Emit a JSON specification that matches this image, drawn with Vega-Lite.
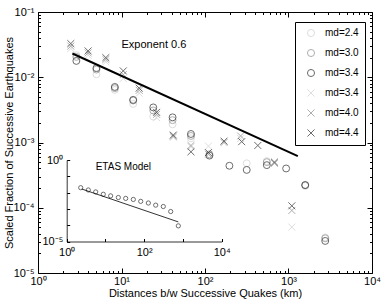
{
  "$schema": "https://vega.github.io/schema/vega-lite/v6.json",
  "width": 334,
  "height": 261,
  "autosize": {"type": "none"},
  "padding": {"left": 38, "top": 12, "right": 10, "bottom": 31},
  "background": "white",
  "config": {
    "view": {"stroke": "black", "strokeWidth": 1},
    "font": "Liberation Sans",
    "axis": {
      "grid": false,
      "labelFont": "Liberation Sans",
      "titleFont": "Liberation Sans",
      "labelColor": "black",
      "titleColor": "black",
      "tickColor": "black",
      "domainColor": "black",
      "titleFontWeight": "normal",
      "labelFontSize": 11,
      "titleFontSize": 11,
      "labelFlush": false,
      "labelOverlap": false
    }
  },
  "datasets": {
    "pts": [
      {"s": "o2.4", "m": "o", "x": 2.88, "y": 0.0218},
      {"s": "o2.4", "m": "o", "x": 5.01, "y": 0.0111},
      {"s": "o2.4", "m": "o", "x": 8.32, "y": 0.0064},
      {"s": "o2.4", "m": "o", "x": 13.8, "y": 0.0039},
      {"s": "o2.4", "m": "o", "x": 24.0, "y": 0.0025},
      {"s": "o2.4", "m": "o", "x": 40.9, "y": 0.0019},
      {"s": "o2.4", "m": "o", "x": 67.9, "y": 0.00116},
      {"s": "o2.4", "m": "o", "x": 316, "y": 0.00048},
      {"s": "o2.4", "m": "o", "x": 550, "y": 0.00052},
      {"s": "o2.4", "m": "o", "x": 1585, "y": 0.000216},
      {"s": "o2.4", "m": "o", "x": 2754, "y": 0.000035},
      {"s": "o3.0", "m": "o", "x": 2.88, "y": 0.0205},
      {"s": "o3.0", "m": "o", "x": 5.01, "y": 0.0131},
      {"s": "o3.0", "m": "o", "x": 8.32, "y": 0.0068},
      {"s": "o3.0", "m": "o", "x": 13.8, "y": 0.0044},
      {"s": "o3.0", "m": "o", "x": 24.0, "y": 0.0031},
      {"s": "o3.0", "m": "o", "x": 40.9, "y": 0.0022},
      {"s": "o3.0", "m": "o", "x": 67.9, "y": 0.00126},
      {"s": "o3.0", "m": "o", "x": 113, "y": 0.00066},
      {"s": "o3.0", "m": "o", "x": 550, "y": 0.0005},
      {"s": "o3.0", "m": "o", "x": 1585, "y": 0.000224},
      {"s": "o3.0", "m": "o", "x": 2754, "y": 0.000034},
      {"s": "o3.4", "m": "o", "x": 2.88, "y": 0.0178},
      {"s": "o3.4", "m": "o", "x": 5.01, "y": 0.0138},
      {"s": "o3.4", "m": "o", "x": 8.32, "y": 0.0071},
      {"s": "o3.4", "m": "o", "x": 13.8, "y": 0.0045},
      {"s": "o3.4", "m": "o", "x": 24.0, "y": 0.00345},
      {"s": "o3.4", "m": "o", "x": 40.9, "y": 0.00243},
      {"s": "o3.4", "m": "o", "x": 67.9, "y": 0.00135},
      {"s": "o3.4", "m": "o", "x": 113, "y": 0.00063},
      {"s": "o3.4", "m": "o", "x": 196, "y": 0.00044},
      {"s": "o3.4", "m": "o", "x": 316, "y": 0.00038},
      {"s": "o3.4", "m": "o", "x": 550, "y": 0.00045},
      {"s": "o3.4", "m": "o", "x": 937, "y": 0.0004},
      {"s": "o3.4", "m": "o", "x": 1585, "y": 0.000222},
      {"s": "o3.4", "m": "o", "x": 2754, "y": 0.000031},
      {"s": "x3.4", "m": "x", "x": 2.47, "y": 0.0275},
      {"s": "x3.4", "m": "x", "x": 3.98, "y": 0.0218},
      {"s": "x3.4", "m": "x", "x": 6.49, "y": 0.0172},
      {"s": "x3.4", "m": "x", "x": 10.5, "y": 0.0096},
      {"s": "x3.4", "m": "x", "x": 16.3, "y": 0.0057},
      {"s": "x3.4", "m": "x", "x": 26.3, "y": 0.0024},
      {"s": "x3.4", "m": "x", "x": 41.7, "y": 0.0012},
      {"s": "x3.4", "m": "x", "x": 67.9, "y": 0.00086},
      {"s": "x3.4", "m": "x", "x": 110, "y": 0.00088},
      {"s": "x3.4", "m": "x", "x": 267, "y": 0.00115},
      {"s": "x3.4", "m": "x", "x": 1096, "y": 0.0000505},
      {"s": "x4.0", "m": "x", "x": 2.47, "y": 0.03},
      {"s": "x4.0", "m": "x", "x": 3.98, "y": 0.0236},
      {"s": "x4.0", "m": "x", "x": 6.49, "y": 0.0187},
      {"s": "x4.0", "m": "x", "x": 10.5, "y": 0.011},
      {"s": "x4.0", "m": "x", "x": 16.3, "y": 0.0063},
      {"s": "x4.0", "m": "x", "x": 26.3, "y": 0.0027},
      {"s": "x4.0", "m": "x", "x": 41.7, "y": 0.00125},
      {"s": "x4.0", "m": "x", "x": 67.9, "y": 0.0009},
      {"s": "x4.0", "m": "x", "x": 110, "y": 0.00066},
      {"s": "x4.0", "m": "x", "x": 169, "y": 0.001},
      {"s": "x4.0", "m": "x", "x": 267, "y": 0.00126},
      {"s": "x4.0", "m": "x", "x": 679, "y": 0.00048},
      {"s": "x4.0", "m": "x", "x": 1096, "y": 0.0000908},
      {"s": "x4.4", "m": "x", "x": 2.47, "y": 0.0328},
      {"s": "x4.4", "m": "x", "x": 3.98, "y": 0.0253},
      {"s": "x4.4", "m": "x", "x": 6.49, "y": 0.02},
      {"s": "x4.4", "m": "x", "x": 10.5, "y": 0.0125},
      {"s": "x4.4", "m": "x", "x": 16.3, "y": 0.0068},
      {"s": "x4.4", "m": "x", "x": 26.3, "y": 0.0029},
      {"s": "x4.4", "m": "x", "x": 41.7, "y": 0.0013},
      {"s": "x4.4", "m": "x", "x": 67.9, "y": 0.00072},
      {"s": "x4.4", "m": "x", "x": 110, "y": 0.0007},
      {"s": "x4.4", "m": "x", "x": 169, "y": 0.00105},
      {"s": "x4.4", "m": "x", "x": 275, "y": 0.00103},
      {"s": "x4.4", "m": "x", "x": 429, "y": 0.0009},
      {"s": "x4.4", "m": "x", "x": 679, "y": 0.0005},
      {"s": "x4.4", "m": "x", "x": 1096, "y": 0.000107}
    ],
    "fit": [{"x": 2.58, "y": 0.0231}, {"x": 1294, "y": 0.00062}],
    "note": [{"x": 10, "y": 0.0316, "label": "Exponent 0.6"}],
    "etas": [
      {"x": 2.3, "y": 0.02},
      {"x": 3.61, "y": 0.0145},
      {"x": 5.6, "y": 0.011},
      {"x": 8.79, "y": 0.0079},
      {"x": 13.6, "y": 0.0063},
      {"x": 21.5, "y": 0.005},
      {"x": 33.3, "y": 0.0044},
      {"x": 52.4, "y": 0.0038},
      {"x": 81.3, "y": 0.0029},
      {"x": 128, "y": 0.0023},
      {"x": 198, "y": 0.0017},
      {"x": 311, "y": 0.0014},
      {"x": 483, "y": 0.00069},
      {"x": 760, "y": 0.000091}
    ],
    "etasfit": [{"x": 2.44, "y": 0.0166}, {"x": 759, "y": 0.000159}],
    "etasnote": [{"x": 29, "y": 0.36, "label": "ETAS Model"}]
  },
  "layer": [
    {
      "layer": [
        {
          "data": {"name": "pts"},
          "transform": [{"filter": "datum.m == 'o'"}],
          "mark": {"type": "point", "filled": false, "strokeWidth": 1, "size": 48},
          "encoding": {
            "x": {"field": "x", "type": "quantitative",
              "scale": {"type": "log", "domain": [1, 10000]},
              "axis": {"orient": "bottom", "offset": 0, "values": [1, 10, 100, 1000, 10000],
                "labelExpr": "datum.value < 5 ? '10⁰' : datum.value < 50 ? '10¹' : datum.value < 500 ? '10²' : datum.value < 5000 ? '10³' : '10⁴'",
                "tickSize": -5, "domain": false, "labelPadding": 7, "title": "Distances b/w Successive Quakes (km)", "titlePadding": 1}},
            "y": {"field": "y", "type": "quantitative",
              "scale": {"type": "log", "domain": [0.00001, 0.1]},
              "axis": {"orient": "left", "offset": 0, "values": [0.00001, 0.0001, 0.001, 0.01, 0.1],
                "labelExpr": "datum.value > 0.05 ? '10⁻¹' : datum.value > 0.005 ? '10⁻²' : datum.value > 0.0005 ? '10⁻³' : datum.value > 0.00005 ? '10⁻⁴' : '10⁻⁵'",
                "tickSize": -5, "domain": false, "labelPadding": 9, "title": "Scaled Fraction of Successive Earthquakes", "titlePadding": -1}},
            "color": {"field": "s", "type": "nominal",
              "scale": {"domain": ["o2.4", "o3.0", "o3.4", "x3.4", "x4.0", "x4.4"], "range": ["#d0d0d0", "#8c8c8c", "#2e2e2e", "#d0d0d0", "#8c8c8c", "#2e2e2e"]},
              "legend": {"title": null, "orient": "none", "legendX": 257, "legendY": 10, "strokeColor": "black", "fillColor": "white", "padding": 6, "rowPadding": 8, "labelFontSize": 10, "labelFont": "Liberation Sans", "labelColor": "black", "symbolSize": 50, "symbolStrokeWidth": 1, "labelOffset": 9, "symbolOffset": 5, "cornerRadius": 0, "labelExpr": "'md=' + slice(datum.label, 1)"}},
            "shape": {"field": "s", "type": "nominal",
              "scale": {"domain": ["o2.4", "o3.0", "o3.4", "x3.4", "x4.0", "x4.4"], "range": ["circle", "circle", "circle", "M-1,-1L1,1M-1,1L1,-1", "M-1,-1L1,1M-1,1L1,-1", "M-1,-1L1,1M-1,1L1,-1"]},
              "legend": {"title": null, "orient": "none", "legendX": 257, "legendY": 10, "strokeColor": "black", "fillColor": "white", "padding": 6, "rowPadding": 8, "labelFontSize": 10, "labelFont": "Liberation Sans", "labelColor": "black", "symbolSize": 50, "symbolStrokeWidth": 1, "labelOffset": 9, "symbolOffset": 5, "cornerRadius": 0, "labelExpr": "'md=' + slice(datum.label, 1)"}}
          }
        },
        {
          "data": {"name": "pts"},
          "transform": [{"filter": "datum.m == 'x'"}],
          "mark": {"type": "point", "filled": false, "strokeWidth": 1, "size": 48},
          "encoding": {
            "x": {"field": "x", "type": "quantitative",
              "scale": {"type": "log", "domain": [1, 10000]},
              "axis": {"orient": "top", "offset": 0, "values": [2,3,4,5,6,7,8,9,20,30,40,50,60,70,80,90,200,300,400,500,600,700,800,900,2000,3000,4000,5000,6000,7000,8000,9000],
                "labels": false, "tickSize": -2.5, "domain": false, "title": null}},
            "y": {"field": "y", "type": "quantitative",
              "scale": {"type": "log", "domain": [0.00001, 0.1]},
              "axis": {"orient": "right", "offset": 0, "values": [0.00002,0.00003,0.00004,0.00005,0.00006,0.00007,0.00008,0.00009,0.0002,0.0003,0.0004,0.0005,0.0006,0.0007,0.0008,0.0009,0.002,0.003,0.004,0.005,0.006,0.007,0.008,0.009,0.02,0.03,0.04,0.05,0.06,0.07,0.08,0.09],
                "labels": false, "tickSize": -2.5, "domain": false, "title": null}},
            "color": {"field": "s", "type": "nominal",
              "scale": {"domain": ["o2.4", "o3.0", "o3.4", "x3.4", "x4.0", "x4.4"], "range": ["#d0d0d0", "#8c8c8c", "#2e2e2e", "#d0d0d0", "#8c8c8c", "#2e2e2e"]},
              "legend": {"title": null, "orient": "none", "legendX": 257, "legendY": 10, "strokeColor": "black", "fillColor": "white", "padding": 6, "rowPadding": 8, "labelFontSize": 10, "labelFont": "Liberation Sans", "labelColor": "black", "symbolSize": 50, "symbolStrokeWidth": 1, "labelOffset": 9, "symbolOffset": 5, "cornerRadius": 0, "labelExpr": "'md=' + slice(datum.label, 1)"}},
            "shape": {"field": "s", "type": "nominal",
              "scale": {"domain": ["o2.4", "o3.0", "o3.4", "x3.4", "x4.0", "x4.4"], "range": ["circle", "circle", "circle", "M-1,-1L1,1M-1,1L1,-1", "M-1,-1L1,1M-1,1L1,-1", "M-1,-1L1,1M-1,1L1,-1"]},
              "legend": {"title": null, "orient": "none", "legendX": 257, "legendY": 10, "strokeColor": "black", "fillColor": "white", "padding": 6, "rowPadding": 8, "labelFontSize": 10, "labelFont": "Liberation Sans", "labelColor": "black", "symbolSize": 50, "symbolStrokeWidth": 1, "labelOffset": 9, "symbolOffset": 5, "cornerRadius": 0, "labelExpr": "'md=' + slice(datum.label, 1)"}}
          }
        },
        {
          "data": {"name": "fit"},
          "mark": {"type": "line", "color": "black", "strokeWidth": 2},
          "encoding": {
            "x": {"field": "x", "type": "quantitative",
              "scale": {"type": "log", "domain": [1, 10000]},
              "axis": {"orient": "bottom", "offset": 0, "values": [2,3,4,5,6,7,8,9,20,30,40,50,60,70,80,90,200,300,400,500,600,700,800,900,2000,3000,4000,5000,6000,7000,8000,9000],
                "labels": false, "tickSize": -2.5, "domain": false, "title": null}},
            "y": {"field": "y", "type": "quantitative",
              "scale": {"type": "log", "domain": [0.00001, 0.1]},
              "axis": {"orient": "left", "offset": 0, "values": [0.00002,0.00003,0.00004,0.00005,0.00006,0.00007,0.00008,0.00009,0.0002,0.0003,0.0004,0.0005,0.0006,0.0007,0.0008,0.0009,0.002,0.003,0.004,0.005,0.006,0.007,0.008,0.009,0.02,0.03,0.04,0.05,0.06,0.07,0.08,0.09],
                "labels": false, "tickSize": -2.5, "domain": false, "title": null}}
          }
        },
        {
          "data": {"name": "note"},
          "mark": {"type": "text", "align": "left", "baseline": "middle", "fontSize": 11, "font": "Liberation Sans", "color": "black"},
          "encoding": {
            "x": {"field": "x", "type": "quantitative",
              "scale": {"type": "log", "domain": [1, 10000]},
              "axis": {"orient": "top", "offset": 0, "values": [1, 10, 100, 1000, 10000], "labels": false, "tickSize": -5, "domain": false, "title": null}},
            "y": {"field": "y", "type": "quantitative",
              "scale": {"type": "log", "domain": [0.00001, 0.1]},
              "axis": {"orient": "right", "offset": 0, "values": [0.00001, 0.0001, 0.001, 0.01, 0.1], "labels": false, "tickSize": -5, "domain": false, "title": null}},
            "text": {"field": "label"}
          }
        }
      ],
      "resolve": {"axis": {"x": "independent", "y": "independent"}}
    },
    {
      "layer": [
        {
          "data": {"name": "etas"},
          "mark": {"type": "point", "filled": false, "strokeWidth": 0.8, "size": 18, "color": "black"},
          "encoding": {
            "x": {"field": "x", "type": "quantitative",
              "scale": {"type": "log", "domain": [1, 10000], "range": [28.7, 183.7]},
              "axis": {"orient": "bottom", "offset": -31.5, "values": [1, 10, 100, 1000, 10000],
                "labelExpr": "datum.value < 5 ? '10⁰' : (datum.value > 50 && datum.value < 500) ? '10²' : datum.value > 5000 ? '10⁴' : ''",
                "tickSize": -3, "domain": true, "domainWidth": 0.8, "labelPadding": 8, "title": null}},
            "y": {"field": "y", "type": "quantitative",
              "scale": {"type": "log", "domain": [0.00001, 1], "range": [229.5, 148]},
              "axis": {"orient": "left", "offset": -28.7, "values": [0.00001, 0.0001, 0.001, 0.01, 0.1, 1],
                "labelExpr": "datum.value > 0.5 ? '10⁰' : datum.value < 0.00005 ? '10⁻⁵' : ''",
                "tickSize": -3, "domain": true, "domainWidth": 0.8, "labelPadding": 7, "title": null}}
          }
        },
        {
          "data": {"name": "etasfit"},
          "mark": {"type": "line", "color": "black", "strokeWidth": 0.8},
          "encoding": {
            "x": {"field": "x", "type": "quantitative", "scale": {"type": "log", "domain": [1, 10000], "range": [28.7, 183.7]}},
            "y": {"field": "y", "type": "quantitative", "scale": {"type": "log", "domain": [0.00001, 1], "range": [229.5, 148]}}
          }
        },
        {
          "data": {"name": "etasnote"},
          "mark": {"type": "text", "align": "center", "baseline": "middle", "fontSize": 10, "font": "Liberation Sans", "color": "black"},
          "encoding": {
            "x": {"field": "x", "type": "quantitative", "scale": {"type": "log", "domain": [1, 10000], "range": [28.7, 183.7]}},
            "y": {"field": "y", "type": "quantitative", "scale": {"type": "log", "domain": [0.00001, 1], "range": [229.5, 148]}},
            "text": {"field": "label"}
          }
        }
      ]
    }
  ],
  "resolve": {"scale": {"x": "independent", "y": "independent"}, "axis": {"x": "independent", "y": "independent"}}
}
